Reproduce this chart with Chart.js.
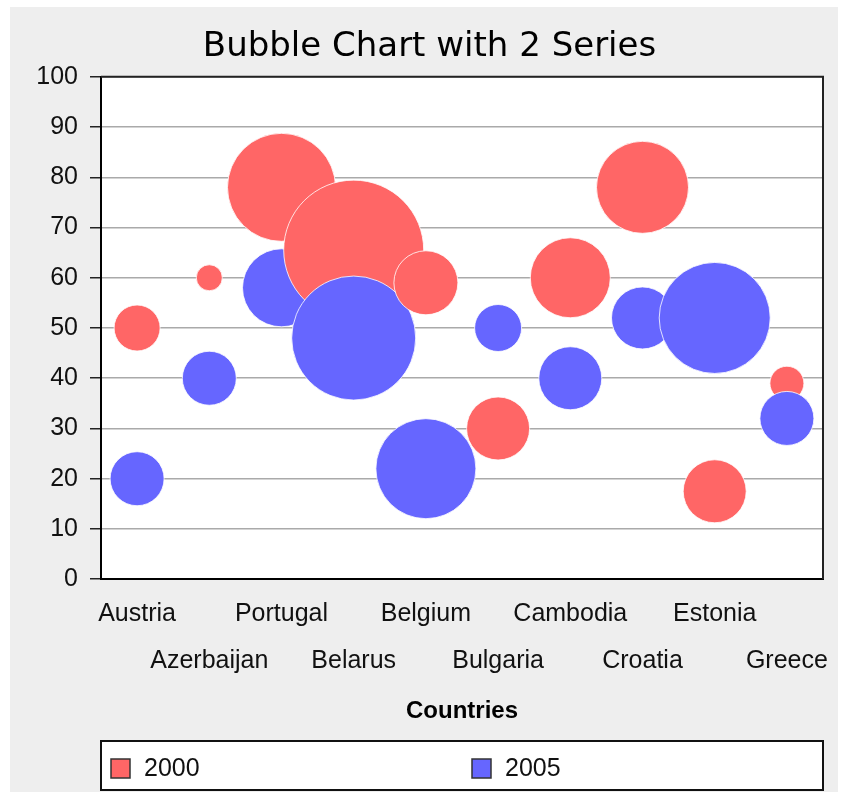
<!DOCTYPE html>
<html>
<head>
<meta charset="utf-8">
<script src="https://cdn.jsdelivr.net/npm/chart.js@4/dist/chart.umd.min.js"></script>
<style>
  html, body { margin: 0; padding: 0; background: #fff; }
  canvas { display: block; }
</style>
</head>
<body>
<canvas id="chart" width="841" height="792"></canvas>
<script>
const countries = ['Austria', 'Azerbaijan', 'Portugal', 'Belarus', 'Belgium',
                   'Bulgaria', 'Cambodia', 'Croatia', 'Estonia', 'Greece'];
const seriesNames = ['2000', '2005'];

// y value and bubble size (radius) per country
const values2000 = [50, 60, 78, 65.5, 59, 30, 60, 78, 17.5, 39];
const sizes2000  = [23, 13, 54, 70, 32, 31.5, 40, 46, 31.5, 17];
const values2005 = [20, 40, 58, 48, 22, 50, 40, 52, 52, 32];
const sizes2005  = [27, 27, 39, 62, 50, 23.5, 31.5, 31, 55.5, 27];

const yTicks = [0, 10, 20, 30, 40, 50, 60, 70, 80, 90, 100];

const tickFont = { family: 'Liberation Sans', size: 25 };

const points = (values, sizes) =>
  countries.map((c, i) => ({ x: c, y: values[i], r: sizes[i] }));

// gray panel, white plot area, frame and the boxed legend
const frame = {
  id: 'frame',
  beforeDraw(chart) {
    const { ctx, chartArea: a } = chart;
    ctx.save();
    ctx.fillStyle = '#ffffff';
    ctx.fillRect(0, 0, chart.width, chart.height);
    ctx.fillStyle = '#eeeeee';
    ctx.fillRect(10, 7, chart.width - 13, chart.height - 7);
    ctx.fillStyle = '#ffffff';
    ctx.fillRect(a.left, a.top, a.right - a.left, a.bottom - a.top);
    ctx.restore();
  },
  // draw bubbles country by country so that later ones overlap earlier ones
  beforeDatasetsDraw(chart) {
    const ctx = chart.ctx;
    const metas = chart.getSortedVisibleDatasetMetas().sort((m1, m2) => m1.index - m2.index);
    ctx.save();
    for (let i = 0; i < countries.length; i++) {
      metas.forEach(m => {
        if (m.data[i]) m.data[i].draw(ctx, chart.chartArea);
      });
    }
    ctx.restore();
    return false;
  },
  afterDraw(chart) {
    const { ctx, chartArea: a } = chart;
    ctx.save();
    ctx.strokeStyle = '#222';
    ctx.lineWidth = 2;
    ctx.beginPath();
    ctx.moveTo(a.left, a.top);
    ctx.lineTo(a.right, a.top);
    ctx.lineTo(a.right, a.bottom);
    ctx.stroke();

    const top = chart.height - 51;
    const h = 49;
    ctx.fillStyle = '#ffffff';
    ctx.fillRect(a.left, top, a.right - a.left, h);
    ctx.strokeStyle = '#111';
    ctx.strokeRect(a.left, top, a.right - a.left, h);

    const sets = chart.data.datasets;
    const colW = (a.right - a.left) / sets.length;
    sets.forEach((ds, i) => {
      const x = a.left + i * colW + 10;
      const y = top + 18;
      ctx.fillStyle = ds.backgroundColor;
      ctx.fillRect(x, y, 19, 19);
      ctx.strokeStyle = '#333';
      ctx.lineWidth = 1.5;
      ctx.strokeRect(x, y, 19, 19);
      ctx.fillStyle = '#111';
      ctx.font = '25px "Liberation Sans"';
      ctx.textBaseline = 'middle';
      ctx.textAlign = 'left';
      ctx.fillText(ds.label, x + 33, y + 10);
    });
    ctx.restore();
  }
};

new Chart(document.getElementById('chart'), {
  type: 'bubble',
  data: {
    labels: countries,
    datasets: [
      {
        label: seriesNames[0],
        data: points(values2000, sizes2000),
        backgroundColor: '#ff6666',
        borderColor: 'rgba(255,255,255,0.8)',
        borderWidth: 1
      },
      {
        label: seriesNames[1],
        data: points(values2005, sizes2005),
        backgroundColor: '#6666ff',
        borderColor: 'rgba(255,255,255,0.8)',
        borderWidth: 1
      }
    ]
  },
  options: {
    responsive: false,
    animation: false,
    events: [],
    layout: { autoPadding: false, padding: { left: 36, right: 18, top: 27, bottom: 66 } },
    plugins: {
      legend: { display: false },
      tooltip: { enabled: false },
      title: {
        display: true,
        text: 'Bubble Chart with 2 Series',
        color: '#000',
        font: { family: 'DejaVu Sans', size: 34, weight: 'normal' },
        padding: { top: 0, bottom: 9 }
      }
    },
    scales: {
      x: {
        type: 'category',
        labels: countries,
        offset: true,
        grid: { display: false, drawTicks: false },
        border: { color: '#000', width: 2 },
        afterFit: scale => { scale.paddingLeft = 0; scale.paddingRight = 0; },
        ticks: {
          autoSkip: false,
          maxRotation: 0,
          padding: 11,
          color: '#111',
          font: { ...tickFont, lineHeight: 1.88 },
          callback: (v, i) => (i % 2 ? ['', countries[i]] : countries[i])
        },
        title: {
          display: true,
          text: 'Countries',
          color: '#000',
          font: { family: 'Liberation Sans', size: 24, weight: 'bold' },
          padding: { top: 2, bottom: 0 }
        }
      },
      y: {
        min: yTicks[0],
        max: yTicks[yTicks.length - 1],
        afterBuildTicks: scale => { scale.ticks = yTicks.map(v => ({ value: v })); },
        afterFit: scale => { scale.width = 65; },
        ticks: { padding: 12, color: '#111', font: tickFont },
        grid: { color: '#aaaaaa', lineWidth: 1.5, tickColor: '#222', tickLength: 11 },
        border: { color: '#000', width: 2 }
      }
    }
  },
  plugins: [frame]
});
</script>
</body>
</html>
